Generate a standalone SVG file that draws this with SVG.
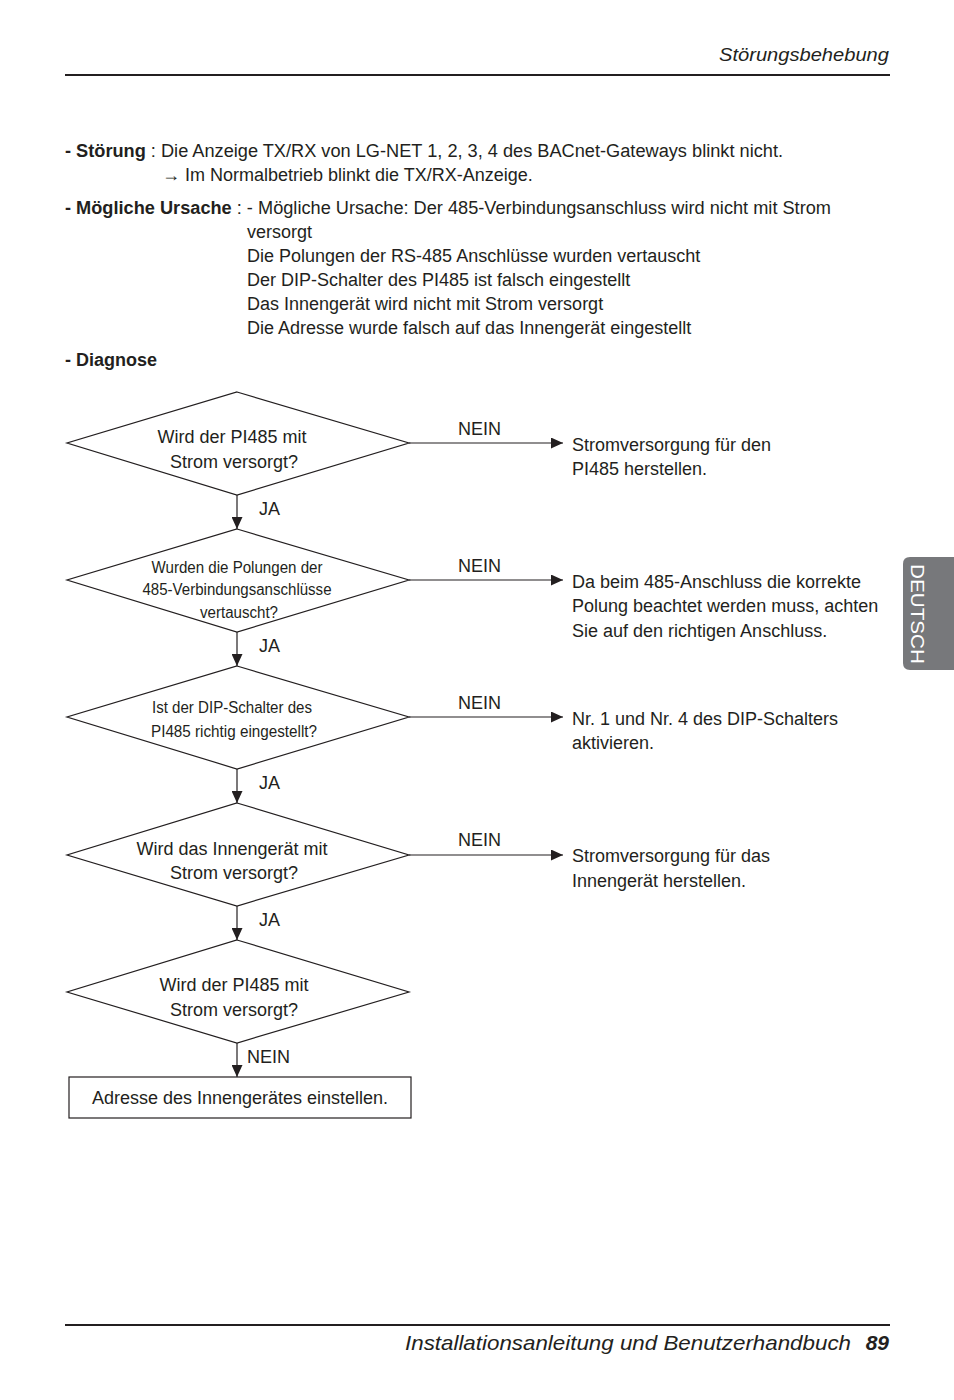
<svg xmlns="http://www.w3.org/2000/svg" width="954" height="1400" viewBox="0 0 954 1400">
<style>
text{font-family:"Liberation Sans",Arial,sans-serif;font-size:18px;fill:#231f20}
.b{font-weight:bold}
.c{text-anchor:middle}
.s{font-size:16px}
.shape{fill:#fff;stroke:#231f20;stroke-width:1.2}
.conn line{stroke:#231f20;stroke-width:1.2}
.rule{stroke:#231f20;stroke-width:2}
</style>
<defs>
<marker id="ah" viewBox="0 0 12 10" refX="12" refY="5" markerWidth="12" markerHeight="11" markerUnits="userSpaceOnUse" orient="auto" preserveAspectRatio="none">
<path d="M0,0 L12,5 L0,10 Z" fill="#231f20"/>
</marker>
</defs>
<rect width="954" height="1400" fill="#fff"/>
<!-- header -->
<text x="889" y="61" text-anchor="end" font-style="italic" textLength="170" lengthAdjust="spacingAndGlyphs">Störungsbehebung</text>
<line class="rule" x1="65" y1="75" x2="890" y2="75"/>
<!-- side tab -->
<path d="M910,557 H954 V670 H910 Q903,670 903,663 V564 Q903,557 910,557 Z" fill="#77787b"/>
<text x="0" y="0" transform="translate(911,614) rotate(90)" text-anchor="middle" textLength="100" lengthAdjust="spacingAndGlyphs" style="fill:#fff;font-size:18px">DEUTSCH</text>
<!-- intro text -->
<text x="65" y="157" textLength="718" lengthAdjust="spacingAndGlyphs"><tspan class="b">- Störung</tspan> : Die Anzeige TX/RX von LG-NET 1, 2, 3, 4 des BACnet-Gateways blinkt nicht.</text>
<text x="162" y="181">→ Im Normalbetrieb blinkt die TX/RX-Anzeige.</text>
<text x="65" y="214" textLength="766" lengthAdjust="spacingAndGlyphs"><tspan class="b">- Mögliche Ursache</tspan> : - Mögliche Ursache: Der 485-Verbindungsanschluss wird nicht mit Strom</text>
<text x="247" y="238">versorgt</text>
<text x="247" y="262">Die Polungen der RS-485 Anschlüsse wurden vertauscht</text>
<text x="247" y="286">Der DIP-Schalter des PI485 ist falsch eingestellt</text>
<text x="247" y="310">Das Innengerät wird nicht mit Strom versorgt</text>
<text x="247" y="334">Die Adresse wurde falsch auf das Innengerät eingestellt</text>
<text x="65" y="366" class="b">- Diagnose</text>
<!-- connectors -->
<g id="connectors" class="conn">
<line x1="237" y1="495" x2="237" y2="529" marker-end="url(#ah)"/>
<line x1="237" y1="632" x2="237" y2="666" marker-end="url(#ah)"/>
<line x1="237" y1="769" x2="237" y2="803" marker-end="url(#ah)"/>
<line x1="237" y1="906" x2="237" y2="940" marker-end="url(#ah)"/>
<line x1="237" y1="1043" x2="237" y2="1077" marker-end="url(#ah)"/>
<line x1="409" y1="443" x2="563" y2="443" marker-end="url(#ah)"/>
<line x1="409" y1="580" x2="563" y2="580" marker-end="url(#ah)"/>
<line x1="409" y1="717" x2="563" y2="717" marker-end="url(#ah)"/>
<line x1="409" y1="855" x2="563" y2="855" marker-end="url(#ah)"/>
<text x="259" y="515">JA</text>
<text x="259" y="652">JA</text>
<text x="259" y="789">JA</text>
<text x="259" y="926">JA</text>
<text x="247" y="1063">NEIN</text>
<text x="458" y="435">NEIN</text>
<text x="458" y="572">NEIN</text>
<text x="458" y="709">NEIN</text>
<text x="458" y="846">NEIN</text>
</g>
<!-- nodes -->
<g id="d1">
<polygon class="shape" points="237,392 409,443 237,495 67,443"/>
<text x="232" y="443" class="c">Wird der PI485 mit</text>
<text x="234" y="468" class="c">Strom versorgt?</text>
</g>
<g id="d2">
<polygon class="shape" points="237,529 409,580 237,632 67,580"/>
<text x="237" y="573" class="c s" textLength="171" lengthAdjust="spacingAndGlyphs">Wurden die Polungen der</text>
<text x="237" y="595" class="c s" textLength="189" lengthAdjust="spacingAndGlyphs">485-Verbindungsanschlüsse</text>
<text x="239" y="618" class="c s" textLength="78" lengthAdjust="spacingAndGlyphs">vertauscht?</text>
</g>
<g id="d3">
<polygon class="shape" points="237,666 409,717 237,769 67,717"/>
<text x="232" y="713" class="c s" textLength="160" lengthAdjust="spacingAndGlyphs">Ist der DIP-Schalter des</text>
<text x="234" y="737" class="c s" textLength="166" lengthAdjust="spacingAndGlyphs">PI485 richtig eingestellt?</text>
</g>
<g id="d4">
<polygon class="shape" points="237,803 409,855 237,906 67,855"/>
<text x="232" y="855" class="c">Wird das Innengerät mit</text>
<text x="234" y="879" class="c">Strom versorgt?</text>
</g>
<g id="d5">
<polygon class="shape" points="237,940 409,992 237,1043 67,992"/>
<text x="234" y="991" class="c">Wird der PI485 mit</text>
<text x="234" y="1016" class="c">Strom versorgt?</text>
</g>
<g id="box">
<rect class="shape" x="69" y="1077" width="342" height="41"/>
<text x="240" y="1104" class="c">Adresse des Innengerätes einstellen.</text>
</g>
<g id="r1">
<text x="572" y="451">Stromversorgung für den</text>
<text x="572" y="475">PI485 herstellen.</text>
</g>
<g id="r2">
<text x="572" y="588">Da beim 485-Anschluss die korrekte</text>
<text x="572" y="612">Polung beachtet werden muss, achten</text>
<text x="572" y="637">Sie auf den richtigen Anschluss.</text>
</g>
<g id="r3">
<text x="572" y="725">Nr. 1 und Nr. 4 des DIP-Schalters</text>
<text x="572" y="749">aktivieren.</text>
</g>
<g id="r4">
<text x="572" y="862">Stromversorgung für das</text>
<text x="572" y="887">Innengerät herstellen.</text>
</g>
<!-- footer -->
<line class="rule" x1="65" y1="1325" x2="890" y2="1325"/>
<text x="405" y="1350" font-style="italic" textLength="446" lengthAdjust="spacingAndGlyphs" style="font-size:21px">Installationsanleitung und Benutzerhandbuch</text>
<text x="889" y="1350" text-anchor="end" font-style="italic" font-weight="bold" style="font-size:21px">89</text>
</svg>
